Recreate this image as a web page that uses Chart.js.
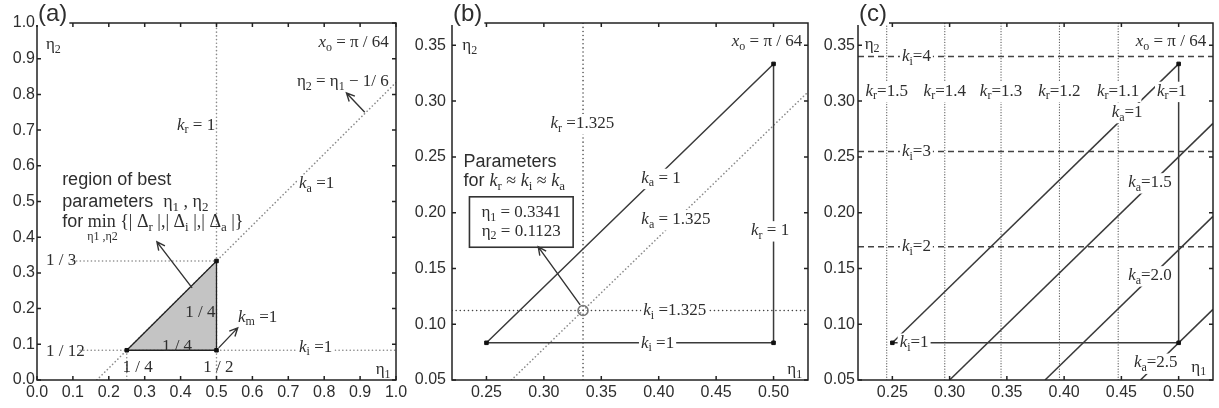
<!DOCTYPE html>
<html>
<head>
<meta charset="utf-8">
<script src="https://cdn.jsdelivr.net/npm/chart.js@4.4.0/dist/chart.umd.min.js"></script>
<style>
    body { margin: 0; background: #fff; width: 1219px; height: 408px; position: relative; overflow: hidden; }
    canvas { position: absolute; top: 0; }
</style>
</head>
<body>
<canvas id="chartA" width="410" height="408" style="left:0px"></canvas>
<canvas id="chartB" width="405" height="408" style="left:410px"></canvas>
<canvas id="chartC" width="404" height="408" style="left:815px"></canvas>
<script>
// === Panel (a): whole (eta1, eta2) plane ===
const ticksA = [0, 0.1, 0.2, 0.3, 0.4, 0.5, 0.6, 0.7, 0.8, 0.9, 1.0];
const regionA = [[0.25, 1 / 12], [0.5, 1 / 12], [0.5, 1 / 3], [0.25, 1 / 12]];
const kaLineA = [[1 / 6, 0], [1, 5 / 6]];          // eta2 = eta1 - 1/6
const krLineA = [[0.5, 0], [0.5, 1]];
const kiLineA = [[0.12, 1 / 12], [1, 1 / 12]];
const thirdLineA = [[0.1, 1 / 3], [0.5, 1 / 3]];
const quarterLineA = [[0.25, 0], [0.25, 1 / 12]];

// === Panel (b): zoom, best parameters ===
const ticksXB = [0.25, 0.30, 0.35, 0.40, 0.45, 0.50];
const ticksYB = [0.05, 0.10, 0.15, 0.20, 0.25, 0.30, 0.35];
const bestEta1 = 0.3341;
const bestEta2 = 0.1123;
const regionB = [[0.25, 1 / 12], [0.5, 1 / 12], [0.5, 1 / 3], [0.25, 1 / 12]];
const krLineB = [[bestEta1, 0.05], [bestEta1, 0.37]];
const kiLineB = [[0.22, bestEta2], [0.53, bestEta2]];
const kaLineB = [[0.2718, 0.05], [0.53, 0.3082]];  // k_a = 1.325

// === Panel (c): families of k_r, k_i, k_a lines ===
const ticksXC = [0.25, 0.30, 0.35, 0.40, 0.45, 0.50];
const ticksYC = [0.05, 0.10, 0.15, 0.20, 0.25, 0.30, 0.35];
const krPosC = [0.2451, 0.2958, 0.3449, 0.3959, 0.4472];
const krNamesC = ['1.5', '1.4', '1.3', '1.2', '1.1'];
const kiPosC = [0.1694, 0.2548, 0.3400];
const kiNamesC = ['2', '3', '4'];
const kaShiftC = [1 / 4, 1 / 3, 5 / 12];
const kaNamesC = ['1.5', '2.0', '2.5'];
const kaLabelXC = [0.475, 0.475, 0.48];

const SERIF = '"Liberation Serif", "DejaVu Serif", serif';
const SANS = '"Liberation Sans", Arial, sans-serif';
const INK = '#2e2e2e';

const SOLID = { borderColor: '#3a3a3a', borderWidth: 1.5 };
const DOTS = { borderColor: '#8a8a8a', borderWidth: 1.6, borderDash: [0.1, 3.6], borderCapStyle: 'round' };
const DOTS_DARK = { borderColor: '#444', borderWidth: 1.5, borderDash: [0.1, 4], borderCapStyle: 'round' };
const DOTS_FINE = { borderColor: '#555', borderWidth: 1.2, borderDash: [0.1, 2.6], borderCapStyle: 'round' };
const DASHES = { borderColor: '#444', borderWidth: 1.5, borderDash: [6, 4] };

function pts(list) {
    return list.map(([x, y]) => ({ x, y }));
}

function line(list, style) {
    return Object.assign({ data: pts(list), showLine: true, pointRadius: 0, fill: false, tension: 0 }, style);
}

function markers(list) {
    return {
        data: pts(list), showLine: false, pointStyle: 'rect', pointRadius: 2.5,
        backgroundColor: '#111', borderColor: '#111', borderWidth: 1
    };
}

// draw text with *italic*, _{sub} and #other family# markup
function drawRich(ctx, str, x, y, o) {
    const size = o.size || 17;
    const base = o.sans ? SANS : SERIF;
    const other = o.sans ? SERIF : SANS;
    const parts = [];
    let italic = false, alt = false, i = 0;
    while (i < str.length) {
        const c = str[i];
        if (c === '*') { italic = !italic; i++; continue; }
        if (c === '#') { alt = !alt; i++; continue; }
        if (c === '_' && str[i + 1] === '{') {
            const end = str.indexOf('}', i);
            parts.push({ t: str.slice(i + 2, end), sub: true, italic: false, alt });
            i = end + 1;
            continue;
        }
        const last = parts[parts.length - 1];
        if (last && !last.sub && last.italic === italic && last.alt === alt) last.t += c;
        else parts.push({ t: c, sub: false, italic, alt });
        i++;
    }
    let total = 0;
    parts.forEach(p => {
        const s = p.sub ? Math.round(size * 0.7) : size;
        p.font = (p.italic ? 'italic ' : '') + s + 'px ' + (p.alt ? other : base);
        ctx.font = p.font;
        p.w = ctx.measureText(p.t).width;
        total += p.w;
    });
    let x0 = x;
    if (o.align === 'center') x0 = x - total / 2;
    else if (o.align === 'right') x0 = x - total;
    if (o.bg) {
        ctx.fillStyle = '#fff';
        ctx.fillRect(x0 - 2, y - size * 0.55, total + 4, size * 1.2);
    }
    ctx.fillStyle = INK;
    ctx.textBaseline = 'middle';
    ctx.textAlign = 'left';
    parts.forEach(p => {
        ctx.font = p.font;
        ctx.fillText(p.t, x0, p.sub ? y + size * 0.3 : y);
        x0 += p.w;
    });
}

function drawArrow(ctx, x1, y1, x2, y2) {
    const ang = Math.atan2(y2 - y1, x2 - x1);
    const head = 9;
    ctx.strokeStyle = '#333';
    ctx.lineWidth = 1.4;
    ctx.beginPath();
    ctx.moveTo(x1, y1);
    ctx.lineTo(x2, y2);
    ctx.moveTo(x2 - head * Math.cos(ang - 0.45), y2 - head * Math.sin(ang - 0.45));
    ctx.lineTo(x2, y2);
    ctx.lineTo(x2 - head * Math.cos(ang + 0.45), y2 - head * Math.sin(ang + 0.45));
    ctx.stroke();
}

// frame, inward ticks, boxes, labels, arrows and panel letter
function notesPlugin(notes) {
    return {
        id: 'notes',
        afterDraw(chart) {
            const ctx = chart.ctx;
            const a = chart.chartArea;
            const sx = chart.scales.x, sy = chart.scales.y;
            const px = v => sx.getPixelForValue(v);
            const py = v => sy.getPixelForValue(v);
            ctx.save();

            ctx.strokeStyle = '#222';
            ctx.lineWidth = 1.5;
            ctx.beginPath();
            sx.ticks.forEach(t => {
                const x = px(t.value);
                ctx.moveTo(x, a.bottom); ctx.lineTo(x, a.bottom - 4);
                ctx.moveTo(x, a.top); ctx.lineTo(x, a.top + 4);
            });
            sy.ticks.forEach(t => {
                const y = py(t.value);
                ctx.moveTo(a.left, y); ctx.lineTo(a.left + 4, y);
                ctx.moveTo(a.right, y); ctx.lineTo(a.right - 4, y);
            });
            ctx.stroke();
            ctx.strokeRect(a.left, a.top, a.right - a.left, a.bottom - a.top);

            (notes.boxes || []).forEach(b => {
                const x0 = px(b[0]), x1 = px(b[1]), y0 = py(b[3]), y1 = py(b[2]);
                ctx.fillStyle = '#fff';
                ctx.fillRect(x0, y0, x1 - x0, y1 - y0);
                ctx.strokeStyle = '#333';
                ctx.lineWidth = 1.6;
                ctx.strokeRect(x0, y0, x1 - x0, y1 - y0);
            });

            (notes.texts || []).forEach(t => drawRich(ctx, t.t, px(t.x), py(t.y), t));
            (notes.arrows || []).forEach(r => drawArrow(ctx, px(r[0]), py(r[1]), px(r[2]), py(r[3])));

            // panel letter sits over the top-left corner
            ctx.font = '24px ' + SANS;
            const w = ctx.measureText(notes.letter).width;
            ctx.fillStyle = '#fff';
            ctx.fillRect(a.left - 2, 0, w + 5, a.top + 2);
            ctx.fillStyle = INK;
            ctx.textBaseline = 'middle';
            ctx.textAlign = 'left';
            ctx.fillText(notes.letter, a.left + 1, a.top - 9);
            ctx.restore();
        }
    };
}

function axes(xr, yr, xt, yt, dec, yWidth, yPad) {
    const font = { family: SANS, size: 16 };
    return {
        x: {
            type: 'linear', min: xr[0], max: xr[1],
            grid: { display: false, drawTicks: false }, border: { display: false },
            afterBuildTicks: s => { s.ticks = xt.map(v => ({ value: v })); },
            afterFit: s => { s.height = 28; s.paddingLeft = 0; s.paddingRight = 0; },
            ticks: { autoSkip: false, maxRotation: 0, padding: 3, color: INK, font, callback: v => Number(v).toFixed(dec) }
        },
        y: {
            type: 'linear', min: yr[0], max: yr[1],
            grid: { display: false, drawTicks: false }, border: { display: false },
            afterBuildTicks: s => { s.ticks = yt.map(v => ({ value: v })); },
            afterFit: s => { s.width = yWidth; s.paddingTop = 0; s.paddingBottom = 0; },
            ticks: { autoSkip: false, padding: yPad, color: INK, font, callback: v => Number(v).toFixed(dec) }
        }
    };
}

function makeChart(id, datasets, scales, rightPad, notes) {
    return new Chart(document.getElementById(id), {
        type: 'scatter',
        data: { datasets },
        options: {
            responsive: false,
            animation: false,
            layout: { padding: { top: 23, right: rightPad, left: 0, bottom: 0 } },
            plugins: { legend: { display: false }, tooltip: { enabled: false } },
            scales
        },
        plugins: [notesPlugin(notes)]
    });
}

// --- (a) ---
makeChart('chartA', [
    markers(regionA.slice(0, 3)),
    line(regionA, Object.assign({}, SOLID, { borderColor: '#222', borderWidth: 1.3 })),
    line(krLineA, DOTS),
    line(kiLineA, DOTS),
    line(thirdLineA, DOTS),
    line(quarterLineA, DOTS),
    line(kaLineA, DOTS),
    line(regionA, { borderWidth: 0, fill: 'shape', backgroundColor: '#c4c4c4' })
], axes([0, 1], [0, 1], ticksA, ticksA, 1, 37, 2), 14, {
    letter: '(a)',
    texts: [
        { x: 0.025, y: 0.94, t: 'η_{2}', align: 'left' },
        { x: 0.98, y: 0.945, t: '*x*_{o} = π / 64', align: 'right' },
        { x: 0.98, y: 0.835, t: 'η_{2} = η_{1} − 1/ 6', align: 'right' },
        { x: 0.39, y: 0.714, t: '*k*_{r} = 1', align: 'left' },
        { x: 0.73, y: 0.549, t: '*k*_{a} =1', align: 'left', bg: true },
        { x: 0.07, y: 0.56, t: 'region of best', align: 'left', sans: true, size: 18 },
        { x: 0.07, y: 0.499, t: 'parameters  #η_{1} , η_{2}#', align: 'left', sans: true, size: 18 },
        { x: 0.07, y: 0.443, t: '#for# min {| Δ_{r} |,| Δ_{i} |,| Δ_{a} |}', align: 'left', size: 18 },
        { x: 0.14, y: 0.40, t: 'η1 ,η2', align: 'left', size: 12 },
        { x: 0.025, y: 0.336, t: '1 / 3', align: 'left' },
        { x: 0.025, y: 0.081, t: '1 / 12', align: 'left' },
        { x: 0.28, y: 0.034, t: '1 / 4', align: 'center' },
        { x: 0.505, y: 0.034, t: '1 / 2', align: 'center' },
        { x: 0.39, y: 0.095, t: '1 / 4', align: 'center' },
        { x: 0.455, y: 0.188, t: '1 / 4', align: 'center' },
        { x: 0.56, y: 0.176, t: '*k*_{m} =1', align: 'left' },
        { x: 0.73, y: 0.092, t: '*k*_{i} =1', align: 'left', bg: true },
        { x: 0.985, y: 0.028, t: 'η_{1}', align: 'right' }
    ],
    arrows: [
        [0.913, 0.75, 0.862, 0.804],
        [0.432, 0.258, 0.334, 0.387],
        [0.506, 0.09, 0.559, 0.146]
    ]
});

// --- (b) ---
makeChart('chartB', [
    markers(regionB.slice(0, 3)),
    {
        data: pts([[bestEta1, bestEta2]]), showLine: false, pointStyle: 'circle', pointRadius: 5,
        borderColor: '#777', borderWidth: 1.6, backgroundColor: 'rgba(0,0,0,0)'
    },
    line(regionB, SOLID),
    line(krLineB, DOTS_DARK),
    line(kiLineB, DOTS_DARK),
    line(kaLineB, DOTS)
], axes([0.22, 0.53], [0.05, 0.37], ticksXB, ticksYB, 2, 42, 6), 7, {
    letter: '(b)',
    boxes: [[0.2352, 0.3255, 0.169, 0.2142]],
    texts: [
        { x: 0.229, y: 0.35, t: 'η_{2}', align: 'left' },
        { x: 0.525, y: 0.353, t: '*x*_{o} = π / 64', align: 'right' },
        { x: 0.3335, y: 0.28, t: '*k*_{r} =1.325', align: 'center', bg: true },
        { x: 0.230, y: 0.2455, t: 'Parameters', align: 'left', sans: true, size: 18 },
        { x: 0.230, y: 0.228, t: 'for #*k*_{r} ≈ *k*_{i} ≈ *k*_{a}#', align: 'left', sans: true, size: 18 },
        { x: 0.2803, y: 0.1997, t: 'η_{1} = ' + bestEta1.toFixed(4), align: 'center' },
        { x: 0.2803, y: 0.1835, t: 'η_{2} = ' + bestEta2.toFixed(4), align: 'center' },
        { x: 0.402, y: 0.231, t: '*k*_{a} = 1', align: 'center', bg: true },
        { x: 0.415, y: 0.194, t: '*k*_{a} = 1.325', align: 'center', bg: true },
        { x: 0.497, y: 0.184, t: '*k*_{r} = 1', align: 'center', bg: true },
        { x: 0.414, y: 0.112, t: '*k*_{i} =1.325', align: 'center', bg: true },
        { x: 0.399, y: 0.083, t: '*k*_{i} =1', align: 'center', bg: true },
        { x: 0.525, y: 0.0596, t: 'η_{1}', align: 'right' }
    ],
    arrows: [[0.3316, 0.1173, 0.2951, 0.1694]]
});

// --- (c) ---
const datasetsC = [markers(regionB.slice(0, 3))];
datasetsC.push(line([[0.25, 1 / 12], [0.5, 1 / 3]], SOLID));
datasetsC.push(line([[0.5, 1 / 12], [0.5, 1 / 3]], SOLID));
datasetsC.push(line([[0.25, 1 / 12], [0.5, 1 / 12]], SOLID));
kaShiftC.forEach(s => datasetsC.push(line([[0.05 + s, 0.05], [0.53, 0.53 - s]], SOLID)));
kiPosC.forEach(y => datasetsC.push(line([[0.22, y], [0.53, y]], DASHES)));
krPosC.forEach(x => datasetsC.push(line([[x, 0.05], [x, 0.37]], DOTS_FINE)));

const textsC = [
    { x: 0.2258, y: 0.351, t: 'η_{2}', align: 'left' },
    { x: 0.524, y: 0.353, t: '*x*_{o} = π / 64', align: 'right' },
    { x: 0.524, y: 0.0616, t: 'η_{1}', align: 'right' },
    { x: 0.494, y: 0.309, t: '*k*_{r}=1', align: 'center', bg: true },
    { x: 0.269, y: 1 / 12, t: '*k*_{i}=1', align: 'center', bg: true },
    { x: 0.455, y: 0.290, t: '*k*_{a}=1', align: 'center', bg: true }
];
krPosC.forEach((x, i) => textsC.push({ x, y: 0.309, t: '*k*_{r}=' + krNamesC[i], align: 'center', bg: true }));
kiPosC.forEach((y, i) => textsC.push({ x: 0.271, y, t: '*k*_{i}=' + kiNamesC[i], align: 'center', bg: true }));
kaShiftC.forEach((s, i) => textsC.push({ x: kaLabelXC[i], y: kaLabelXC[i] - s + 0.002, t: '*k*_{a}=' + kaNamesC[i], align: 'center', bg: true }));

makeChart('chartC', datasetsC, axes([0.22, 0.53], [0.05, 0.37], ticksXC, ticksYC, 2, 43, 3), 6, {
    letter: '(c)',
    texts: textsC
});
</script>
</body>
</html>
